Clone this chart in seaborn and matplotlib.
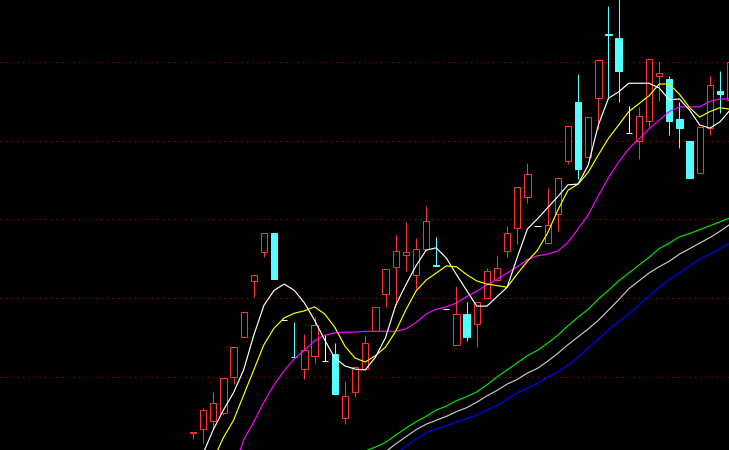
import numpy as np
import pandas as pd
import matplotlib
matplotlib.use('Agg')
import matplotlib.pyplot as plt
import seaborn as sns

# daily bars (open, high, low, close)
opens = [10.29, 10.34, 10.44, 10.54, 11.00, 11.51, 12.22, 12.59, 12.83, 11.72,
         11.26, 11.10, 11.27, 11.20, 11.29, 10.48, 10.81, 11.10, 11.58, 12.05,
         12.40, 12.55, 12.30, 12.63, 12.42, 11.86, 11.41, 11.80, 11.67, 12.00,
         12.23, 12.60, 12.89, 13.29, 12.92, 12.70, 13.07, 13.74, 14.49, 13.79,
         14.54, 15.35, 15.30, 14.10, 14.00, 14.25, 14.82, 14.78, 14.28, 14.00,
         13.59, 14.16, 14.63, 14.52]
highs = [10.30, 10.61, 10.81, 10.99, 11.38, 11.83, 12.30, 12.83, 12.83, 11.72,
         11.70, 11.55, 11.76, 11.53, 11.43, 10.95, 11.13, 11.53, 11.89, 12.37,
         12.80, 12.97, 12.77, 13.17, 12.78, 11.86, 12.16, 11.95, 11.95, 12.38,
         12.54, 12.92, 13.41, 13.72, 12.92, 13.40, 13.53, 14.19, 14.85, 14.30,
         15.03, 15.71, 15.85, 14.44, 14.43, 15.04, 15.01, 14.82, 14.49, 14.00,
         14.17, 14.82, 14.89, 15.00]
lows = [10.21, 10.16, 10.34, 10.52, 10.91, 11.51, 12.02, 12.52, 12.24, 11.72,
        11.25, 10.97, 11.18, 11.20, 10.78, 10.40, 10.75, 11.10, 11.58, 11.89,
        11.91, 12.35, 12.12, 12.63, 12.41, 11.86, 11.41, 11.46, 11.38, 12.00,
        12.23, 12.52, 12.69, 13.21, 12.92, 12.70, 12.85, 13.70, 13.51, 13.79,
        14.15, 14.56, 14.49, 14.10, 13.77, 14.17, 14.50, 14.07, 13.91, 13.53,
        13.59, 14.07, 14.35, 14.52]
closes = [10.30, 10.58, 10.67, 10.99, 11.38, 11.83, 12.30, 12.83, 12.24, 11.72,
          11.25, 11.34, 11.66, 11.20, 10.78, 10.76, 11.13, 11.43, 11.89, 12.37,
          12.60, 12.59, 12.63, 12.98, 12.41, 11.86, 11.80, 11.51, 11.95, 12.35,
          12.38, 12.83, 13.41, 13.58, 12.92, 12.93, 13.53, 14.19, 13.64, 14.30,
          15.03, 15.34, 14.89, 14.10, 14.31, 15.04, 14.86, 14.25, 14.16, 13.53,
          14.17, 14.71, 14.59, 15.00]

nan = np.nan
ma_white = [9.76, 10.03, 10.33, 10.58, 10.80, 11.09, 11.53, 11.91, 12.10, 12.18,
            12.10, 11.94, 11.72, 11.47, 11.24, 11.14, 11.10, 11.09, 11.25, 11.50,
            11.91, 12.17, 12.41, 12.61, 12.64, 12.51, 12.30, 12.10, 11.90, 11.90,
            12.02, 12.14, 12.52, 12.88, 13.01, 13.15, 13.29, 13.44, 13.45, 13.69,
            14.20, 14.54, 14.62, 14.73, 14.73, 14.73, 14.67, 14.52, 14.53, 14.39,
            14.20, 14.16, 14.24, 14.39]
ma_yellow = [9.37, 9.67, 9.95, 10.23, 10.45, 10.77, 11.09, 11.41, 11.62, 11.75,
             11.81, 11.84, 11.89, 11.80, 11.63, 11.39, 11.24, 11.19, 11.27, 11.38,
             11.58, 11.85, 12.09, 12.23, 12.32, 12.41, 12.40, 12.30, 12.22, 12.18,
             12.16, 12.14, 12.31, 12.47, 12.61, 12.83, 13.12, 13.37, 13.45, 13.60,
             13.82, 14.03, 14.20, 14.37, 14.47, 14.57, 14.72, 14.72, 14.59, 14.42,
             14.30, 14.37, 14.42, 14.40]
ma_magenta = [nan, nan, nan, 9.44, 9.82, 10.20, 10.43, 10.68, 10.90, 11.08,
              11.23, 11.34, 11.46, 11.53, 11.56, 11.57, 11.57, 11.58, 11.58, 11.58,
              11.58, 11.61, 11.69, 11.80, 11.86, 11.89, 11.94, 12.02, 12.09, 12.17,
              12.24, 12.32, 12.40, 12.49, 12.54, 12.56, 12.60, 12.71, 12.88, 13.06,
              13.30, 13.53, 13.73, 13.90, 14.02, 14.15, 14.26, 14.37, 14.43, 14.43,
              14.43, 14.50, 14.53, 14.53]
ma_green = [nan] * 17 + [
    10.06, 10.11, 10.17, 10.26, 10.35, 10.43, 10.50, 10.58, 10.63, 10.70,
    10.75, 10.81, 10.90, 11.00, 11.09, 11.18, 11.27, 11.34, 11.43, 11.53,
    11.65, 11.76, 11.86, 11.99, 12.10, 12.22, 12.32, 12.42, 12.52, 12.63,
    12.70, 12.78, 12.82, 12.87, 12.92, 12.97, 13.02]
ma_gray = [nan] * 19 + [
    10.05, 10.15, 10.24, 10.33, 10.40, 10.45, 10.50, 10.56, 10.61, 10.68,
    10.76, 10.83, 10.91, 10.97, 11.05, 11.11, 11.20, 11.30, 11.41, 11.51,
    11.61, 11.72, 11.85, 11.98, 12.12, 12.22, 12.32, 12.40, 12.47, 12.56,
    12.63, 12.70, 12.77, 12.85, 12.94]
ma_blue = [nan] * 20 + [
    10.02, 10.12, 10.21, 10.29, 10.34, 10.38, 10.43, 10.47, 10.52, 10.58,
    10.64, 10.72, 10.80, 10.86, 10.92, 11.00, 11.06, 11.15, 11.25, 11.37,
    11.48, 11.60, 11.70, 11.80, 11.91, 12.03, 12.14, 12.24, 12.32, 12.41,
    12.50, 12.56, 12.63, 12.70]

grid_levels = [11, 12, 13, 14, 15]

df = pd.DataFrame({'open': opens, 'high': highs, 'low': lows, 'close': closes})
df['idx'] = np.arange(len(df))

sns.set_style('dark', {'axes.facecolor': 'black', 'figure.facecolor': 'black'})

fig = plt.figure(figsize=(7.29, 4.5), dpi=100)
ax = fig.add_axes([0, 0, 1, 1])
ax.set_facecolor('black')

RED = '#ff3232'
CYAN = '#54ffff'
W = 0.62
LW = 0.72  # one pixel at 100 dpi

for y in grid_levels:
    ax.axhline(y, color='#b00000', lw=LW, ls=(0, (1.4, 4.2)), zorder=1, snap=True)

up = df[df.close > df.open]
down = df[df.close < df.open]
flat = df[df.close == df.open]

# candles: wicks under the bodies, snapped to the pixel grid
ax.vlines(up.idx, up.low, up.high, color=RED, lw=LW, zorder=2, snap=True)
ax.bar(up.idx, up.close - up.open, bottom=up.open, width=W, facecolor='black',
       edgecolor=RED, linewidth=LW, zorder=3, snap=True)

ax.vlines(down.idx, down.low, down.high, color=CYAN, lw=LW, zorder=2, snap=True)
ax.bar(down.idx, down.open - down.close, bottom=down.close, width=W, facecolor=CYAN,
       edgecolor=CYAN, linewidth=LW, zorder=3, snap=True)

ax.vlines(flat.idx, flat.low, flat.high, color='white', lw=LW, zorder=2, snap=True)
ax.hlines(flat.close, flat.idx - W / 2, flat.idx + W / 2, color='white', lw=LW,
          zorder=3, snap=True)

ma = pd.DataFrame({'idx': df.idx, 'w': ma_white, 'y': ma_yellow, 'm': ma_magenta,
                   'g': ma_green, 'gr': ma_gray, 'b': ma_blue})
for col, c in [('b', '#0000ff'), ('gr', '#c8c8c8'), ('g', '#00e600'),
               ('m', '#ff00ff'), ('y', '#ffff00'), ('w', '#ffffff')]:
    sns.lineplot(data=ma, x='idx', y=col, color=c, lw=0.85, ax=ax, zorder=4)

ax.set_xlim(-19.04, 52.89)
ax.set_ylim(10.073, 15.787)
ax.set_xticks([])
ax.set_yticks([])
ax.set_xlabel('')
ax.set_ylabel('')
for s in ax.spines.values():
    s.set_visible(False)

fig.savefig('out.png', dpi=100, facecolor='black')
